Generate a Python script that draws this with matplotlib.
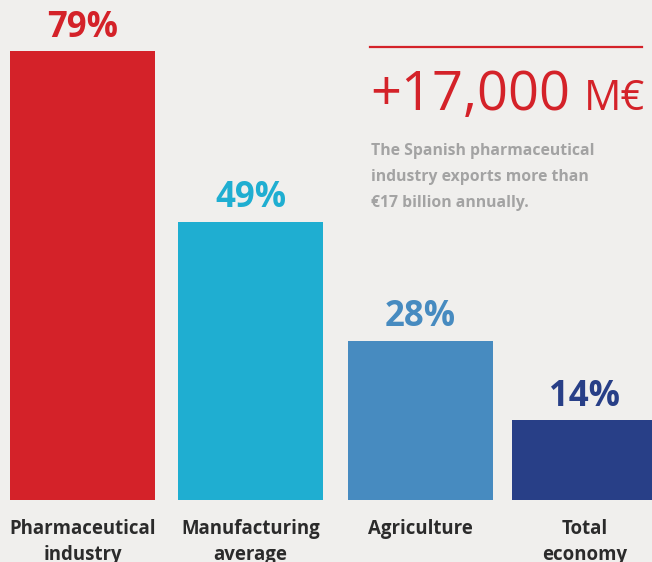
import matplotlib as mpl
mpl.use('Agg')
import matplotlib.pyplot as plt

plt.rcParams['font.family'] = ['Open Sans', 'DejaVu Sans']

categories = ['Pharmaceutical\nindustry', 'Manufacturing\naverage', 'Agriculture', 'Total\neconomy']
shares = [79, 49, 28, 14]
bar_colors = ['#D42229', '#1FAED1', '#478BC0', '#283F87']
headline = '+17,000'
headline_unit = 'M€'
note_lines = ['The Spanish pharmaceutical', 'industry exports more than', '€17 billion annually.']

BG = '#F0EFED'
W, H = 652, 562

fig = plt.figure(figsize=(W / 100, H / 100), dpi=100, facecolor=BG)
# axes in pixel-like units: x spans the full width, bars sit on y=500px
ax = fig.add_axes([0, 62 / H, 1, 500 / H])
ax.set_facecolor(BG)
ax.set_xlim(0, W)
ax.set_ylim(0, 500 / 5.68)

xpos = [82.5, 250.5, 420.5, 584.5]
bars = ax.bar(xpos, shares, width=145, color=bar_colors)

for b, v, c in zip(bars, shares, bar_colors):
    ax.annotate(f'{v}%', (b.get_x() + b.get_width() / 2, v),
                xytext=(0, 10.5), textcoords='offset points',
                ha='center', va='baseline', fontsize=25, fontweight='bold', color=c)

ax.set_xticks(xpos)
ax.set_xticklabels(categories, fontsize=13.4, fontweight='bold', color='#2B2B2B',
                   linespacing=1.35)
ax.tick_params(axis='x', length=0, pad=14)
ax.set_yticks([])
for s in ax.spines.values():
    s.set_visible(False)

# headline block on the right
fig.add_artist(plt.Line2D([370 / W, 642 / W], [1 - 47 / H, 1 - 47 / H],
                          color='#D42229', lw=1.6))
fig.text(370 / W, 1 - 110 / H, headline, fontsize=39, color='#D42229',
         ha='left', va='baseline')
fig.text(645 / W, 1 - 110 / H, headline_unit, fontsize=30, color='#D42229',
         ha='right', va='baseline')
for i, line in enumerate(note_lines):
    fig.text(371 / W, 1 - (155 + 26 * i) / H, line, fontsize=11.3, fontweight='bold',
             color='#A3A3A3', ha='left', va='baseline')

fig.savefig('out.png', dpi=100, facecolor=BG)
